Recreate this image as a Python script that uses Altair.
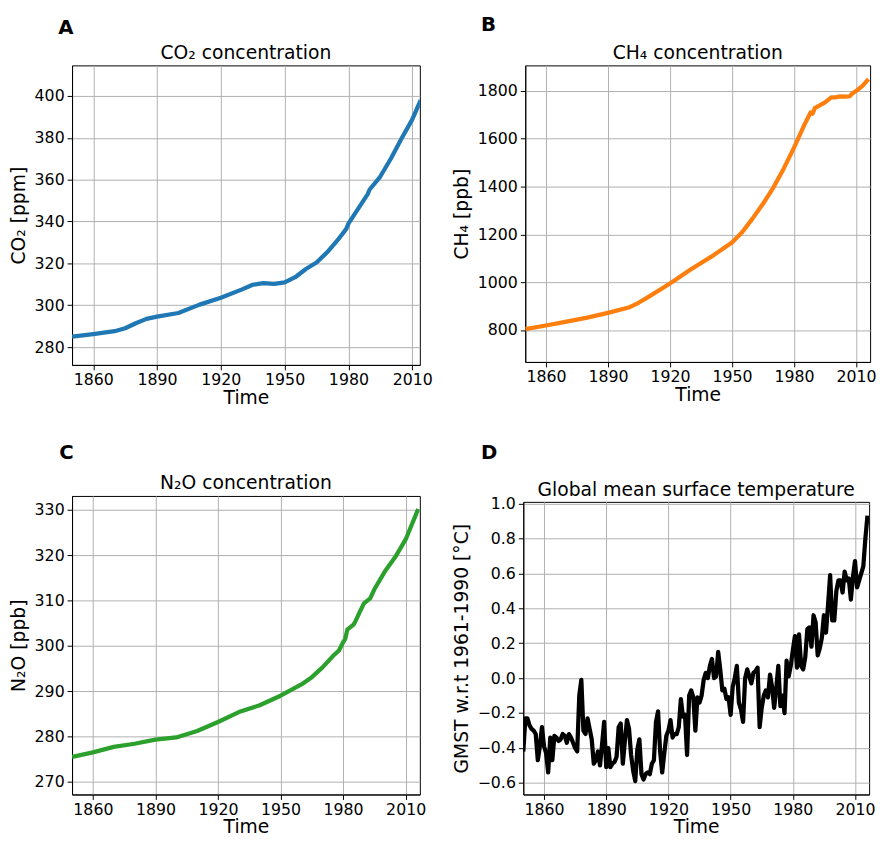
import altair as alt
import pandas as pd

FONT = "DejaVu Sans"

# ---------------- data ----------------
co2_years = [1850, 1860, 1870, 1875, 1880, 1885, 1890, 1900, 1910, 1920, 1930, 1935, 1940,
             1945, 1950, 1955, 1960, 1965, 1970, 1975, 1979, 1980, 1985, 1989, 1990, 1995,
             2000, 2005, 2010, 2014]
co2_ppm = [285.0, 286.2, 287.6, 289.0, 291.4, 293.5, 294.6, 296.3, 300.3, 303.6, 307.6, 309.8,
           310.6, 310.2, 310.9, 313.4, 317.3, 320.4, 325.3, 331.2, 336.5, 339.0, 346.8, 353.0,
           355.3, 361.5, 370.1, 379.7, 388.7, 398.0]

ch4_years = [1850, 1860, 1870, 1880, 1890, 1900, 1905, 1910, 1920, 1930, 1940, 1950, 1955,
             1960, 1965, 1970, 1975, 1980, 1985, 1988, 1989, 1990, 1992, 1995, 1998, 2000,
             2002, 2005, 2007, 2008, 2010, 2013, 2016]
ch4_ppb = [804, 819, 835, 852, 872, 894, 915, 941, 995, 1053, 1107, 1166, 1210, 1267, 1328,
           1396, 1475, 1563, 1658, 1710, 1705, 1728, 1738, 1752, 1773, 1773, 1777, 1776, 1778,
           1788, 1800, 1820, 1850]

n2o_years = [1850, 1860, 1870, 1880, 1890, 1900, 1910, 1920, 1930, 1940, 1950, 1960, 1965,
             1970, 1975, 1978, 1980, 1981, 1982, 1985, 1986, 1988, 1990, 1993, 1995, 2000,
             2005, 2010, 2016]
n2o_ppb = [275.5, 276.5, 277.7, 278.4, 279.3, 279.8, 281.2, 283.2, 285.4, 286.9, 289.0, 291.5,
           293.1, 295.2, 297.7, 299.0, 300.8, 301.5, 303.6, 304.7, 305.5, 307.5, 309.4, 310.5,
           312.5, 316.4, 319.6, 323.5, 330.2]

temp_years = list(range(1850, 2017))
temp_anom = [
    -0.42, -0.23, -0.23, -0.27, -0.29, -0.30, -0.32, -0.47, -0.39, -0.28,
    -0.39, -0.43, -0.54, -0.34, -0.47, -0.33, -0.34, -0.36, -0.35, -0.32,
    -0.33, -0.37, -0.32, -0.34, -0.37, -0.40, -0.42, -0.10, -0.01, -0.30,
    -0.32, -0.23, -0.29, -0.35, -0.49, -0.47, -0.42, -0.50, -0.38, -0.25,
    -0.51, -0.40, -0.51, -0.49, -0.48, -0.45, -0.28, -0.26, -0.49, -0.36,
    -0.24, -0.29, -0.44, -0.53, -0.59, -0.41, -0.35, -0.55, -0.58, -0.55,
    -0.54, -0.55, -0.49, -0.47, -0.25, -0.19, -0.42, -0.54, -0.43, -0.33,
    -0.30, -0.24, -0.34, -0.32, -0.32, -0.28, -0.12, -0.22, -0.21, -0.44,
    -0.10, -0.07, -0.11, -0.30, -0.11, -0.14, -0.10, -0.01, 0.03, 0.00,
    0.07, 0.11, 0.00, 0.01, 0.15, 0.05, -0.07, -0.06, -0.12, -0.11,
    -0.21, -0.05, 0.00, 0.07, -0.14, -0.18, -0.25, 0.00, 0.05, 0.01,
    -0.03, 0.03, 0.04, 0.06, -0.28, -0.17, -0.10, -0.07, -0.11, 0.02,
    -0.05, -0.17, -0.06, 0.07, -0.16, -0.10, -0.20, 0.10, 0.01, 0.07,
    0.16, 0.24, 0.06, 0.25, 0.07, 0.05, 0.12, 0.28, 0.29, 0.18,
    0.36, 0.32, 0.13, 0.17, 0.23, 0.36, 0.26, 0.42, 0.59, 0.33,
    0.33, 0.50, 0.56, 0.56, 0.49, 0.61, 0.56, 0.57, 0.45, 0.58,
    0.67, 0.52, 0.56, 0.60, 0.64, 0.80, 0.93,
]

x_ticks = [1860, 1890, 1920, 1950, 1980, 2010]


def panel(years, values, color, ytitle, title, letter, ydom, yticks, xdom, w, h,
          lx, ly, ty, yfmt):
    df = pd.DataFrame({"year": years, "v": values})
    line = alt.Chart(df).mark_line(color=color, strokeWidth=4.3, clip=True,
                                   strokeJoin="round").encode(
        x=alt.X("year:Q", scale=alt.Scale(domain=xdom, nice=False, zero=False),
                axis=alt.Axis(values=x_ticks, format="d", title="Time",
                              labelFont=FONT, titleFont=FONT)),
        y=alt.Y("v:Q", scale=alt.Scale(domain=ydom, nice=False, zero=False),
                axis=alt.Axis(values=yticks, title=ytitle, format=yfmt,
                              labelFont=FONT, titleFont=FONT)),
    )
    lab = alt.Chart(pd.DataFrame({"t": [letter]})).mark_text(
        align="left", baseline="alphabetic", fontSize=20, fontWeight="bold",
        font=FONT, color="black").encode(
        text="t:N", x=alt.value(lx), y=alt.value(ly))
    ttl = alt.Chart(pd.DataFrame({"t": [title]})).mark_text(
        align="center", baseline="alphabetic", fontSize=19, fontWeight="normal",
        font=FONT, color="black").encode(
        text="t:N", x=alt.value(w / 2), y=alt.value(ty))
    return alt.layer(line, lab, ttl).properties(width=w, height=h)


A = panel(co2_years, co2_ppm, "#1f77b4", "CO₂ [ppm]", "CO₂ concentration", "A",
          [271.5, 414.6], [280, 300, 320, 340, 360, 380, 400], [1850, 2013.6],
          353, 304, -14, -32, -6, "d")
B = panel(ch4_years, ch4_ppb, "#ff7f0e", "CH₄ [ppb]", "CH₄ concentration", "B",
          [666.5, 1907], [800, 1000, 1200, 1400, 1600, 1800], [1850, 2016.8],
          350, 301, -45, -35, -6, "d")
C = panel(n2o_years, n2o_ppb, "#2ca02c", "N₂O [ppb]", "N₂O concentration", "C",
          [267.2, 333.1], [270, 280, 290, 300, 310, 320, 330], [1850, 2016.8],
          353, 303, -13, -38, -7, "d")
D = panel(temp_years, temp_anom, "black", "GMST w.r.t 1961-1990 [°C]",
          "Global mean surface temperature", "D",
          [-0.666, 1.009], [-0.6, -0.4, -0.2, 0.0, 0.2, 0.4, 0.6, 0.8, 1.0],
          [1850, 2016.8], 351, 297, -43, -44, -6, ".1f")

chart = alt.concat(A, B, C, D, columns=2, align="none",
                   spacing={"row": 34, "column": 18}).properties(
    padding={"left": 0, "top": 0, "right": 0, "bottom": 0}
).configure(
    font=FONT
).configure_view(
    stroke="black", strokeWidth=1
).configure_axis(
    grid=True, gridColor="#b0b0b0", gridWidth=1,
    domainColor="black", domainWidth=1,
    tickColor="black", tickSize=5, tickWidth=1,
    labelFont=FONT, labelFontSize=16, labelColor="black",
    titleFont=FONT, titleFontSize=19, titleFontWeight="normal", titleColor="black",
    labelFlush=False,
).configure_axisX(
    labelPadding=2, titlePadding=1,
).configure_axisY(
    labelPadding=3, titlePadding=6,
)

chart.save("out.html", embed_options={"renderer": "svg", "actions": False})
